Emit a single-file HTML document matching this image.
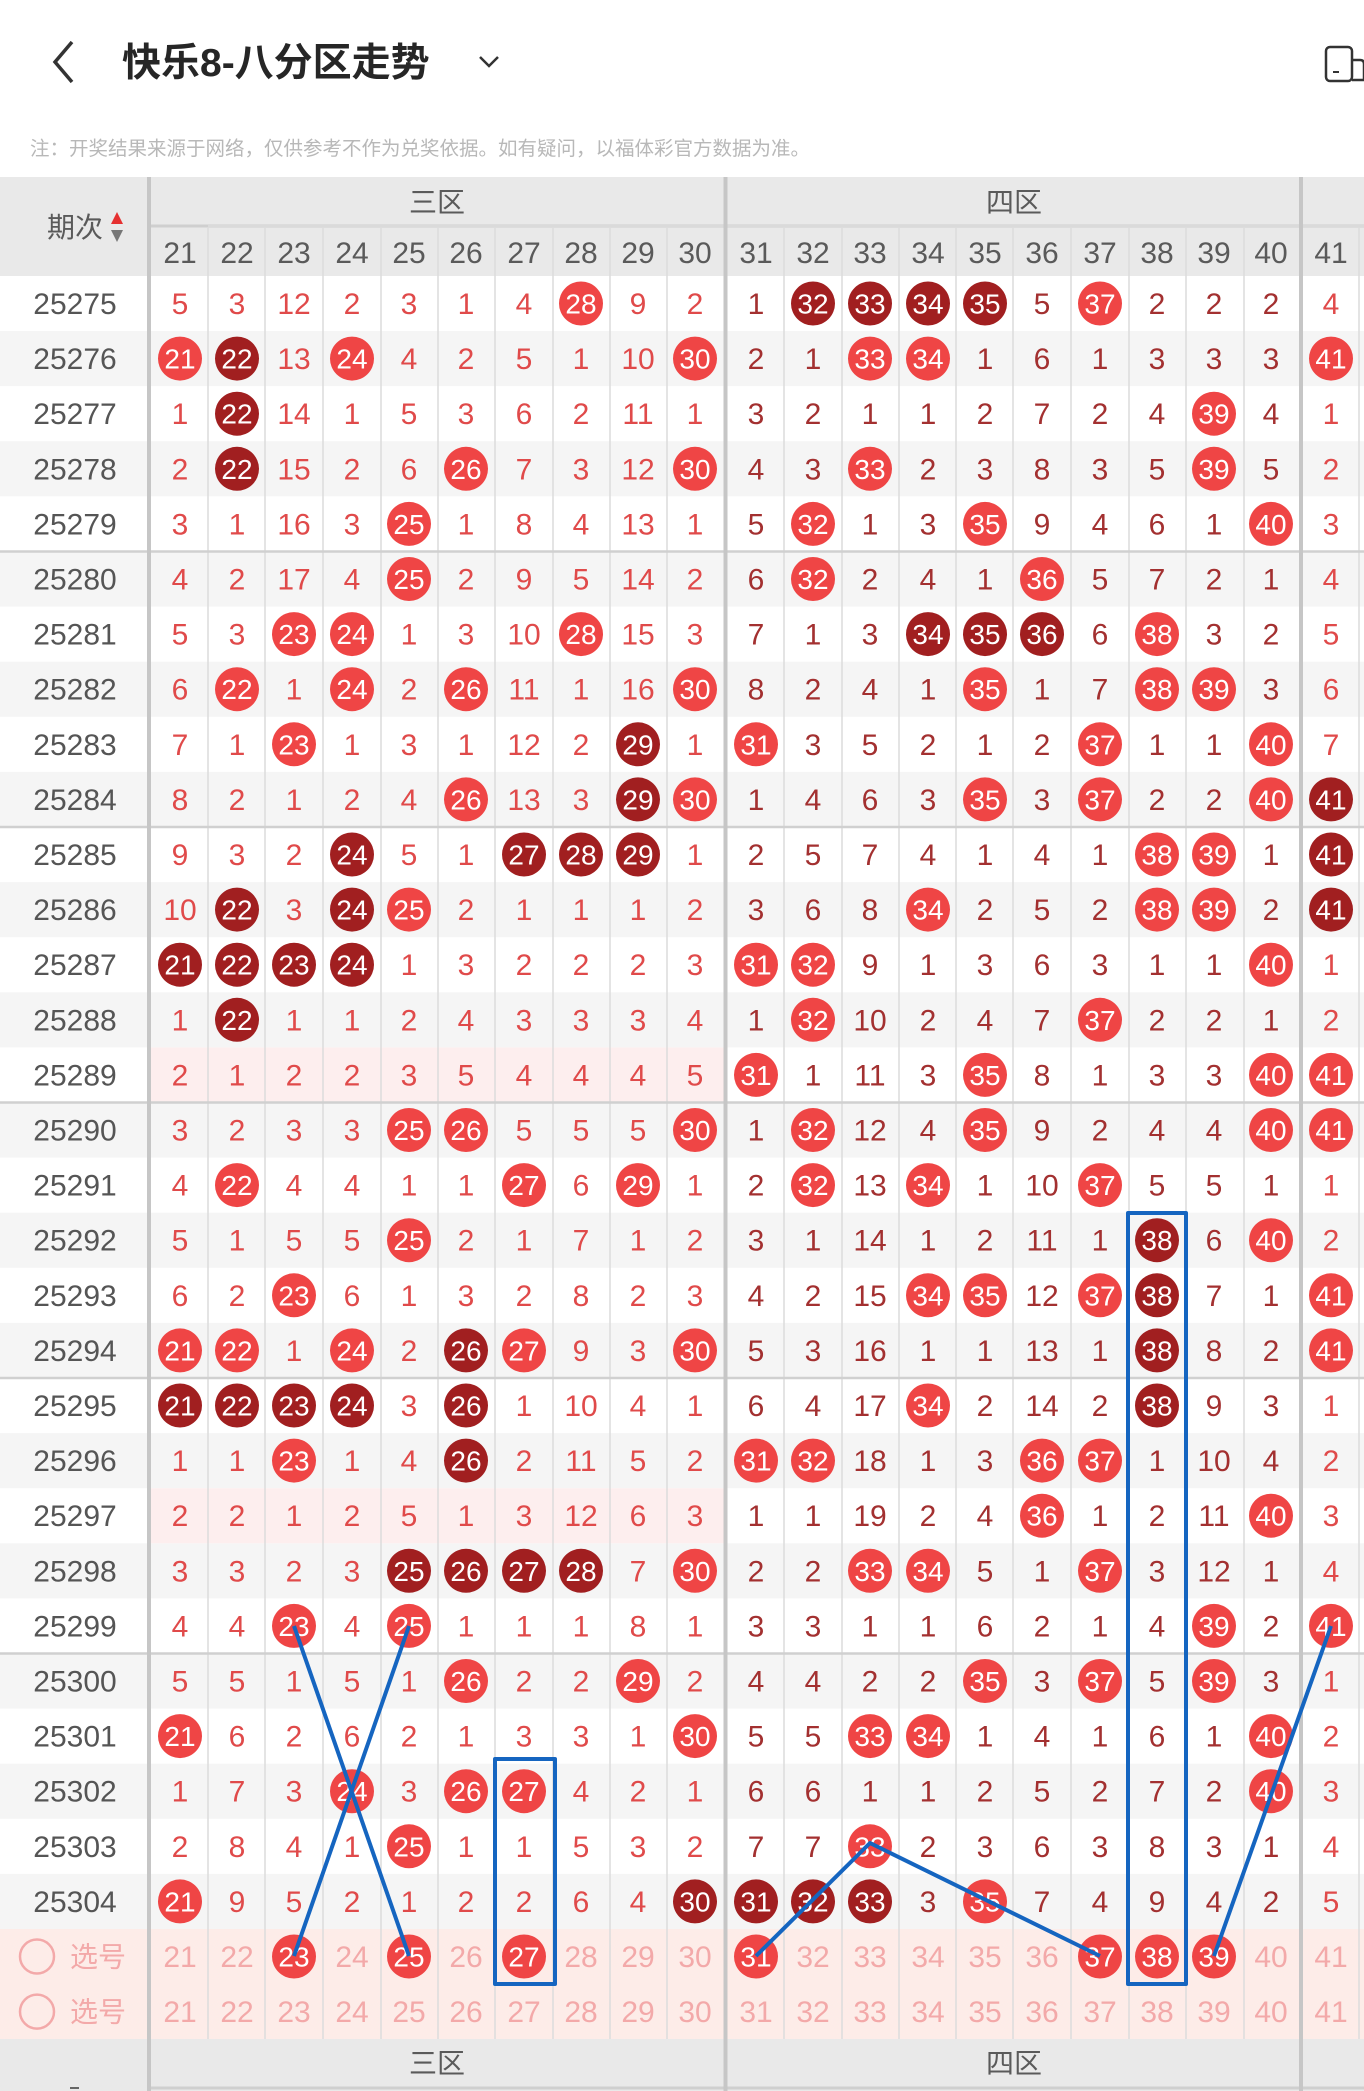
<!DOCTYPE html>
<html><head><meta charset="utf-8"><style>
html,body{margin:0;padding:0;background:#fff;}
svg{display:block;}
text{font-family:"Liberation Sans","Noto Sans CJK SC",sans-serif;font-size:30px;text-anchor:middle;}
.a{fill:#e04a4a}.z{fill:#a33030}.w{fill:#fff;font-size:28px}.p{fill:#555}
.r{fill:#ef4545}.k{fill:#a11f20}
.h{fill:#5a5a5a}
.s{fill:#f3a9a9}
</style></head><body>
<svg width="1364" height="2091" viewBox="0 0 1364 2091" xmlns="http://www.w3.org/2000/svg">
<rect width="1364" height="2091" fill="#fff"/>
<!-- top bar -->
<polyline points="72,42 55,62 72,82" fill="none" stroke="#333" stroke-width="3.5"/>
<text x="122" y="76" style="text-anchor:start;font-size:39px;font-weight:bold;fill:#262626">快乐8-八分区走势</text>
<polyline points="480,57 489,66 498,57" fill="none" stroke="#333" stroke-width="2.5"/>
<rect x="1326" y="47" width="26" height="34" rx="4" fill="none" stroke="#333" stroke-width="2.5"/>
<path d="M1352,60 L1360,60 Q1364,60 1364,64 L1364,80 L1352,80" fill="none" stroke="#333" stroke-width="2.5"/>
<line x1="1333" y1="72" x2="1339" y2="72" stroke="#333" stroke-width="2"/>
<text x="30" y="155" style="text-anchor:start;font-size:19.5px;fill:#b8b8b8">注：开奖结果来源于网络，仅供参考不作为兑奖依据。如有疑问，以福体彩官方数据为准。</text>
<!-- header -->
<rect x="0" y="177" width="1364" height="99" fill="#e9e9e9"/>
<line x1="149" y1="226" x2="1364" y2="226" stroke="#cfcfcf" stroke-width="3"/>
<text x="437" y="212" class="h" style="font-size:28px">三区</text>
<text x="1014" y="212" class="h" style="font-size:28px">四区</text>
<text x="75" y="237" class="h" style="font-size:28px">期次</text>
<polygon points="117,212 111,224 123,224" fill="#e53030"/>
<polygon points="117,242 111,230 123,230" fill="#777"/>
<text class="h" y="263"><tspan x="180">21</tspan><tspan x="237">22</tspan><tspan x="294">23</tspan><tspan x="352">24</tspan><tspan x="409">25</tspan><tspan x="466">26</tspan><tspan x="524">27</tspan><tspan x="581">28</tspan><tspan x="638">29</tspan><tspan x="695">30</tspan><tspan x="756">31</tspan><tspan x="813">32</tspan><tspan x="870">33</tspan><tspan x="928">34</tspan><tspan x="985">35</tspan><tspan x="1042">36</tspan><tspan x="1100">37</tspan><tspan x="1157">38</tspan><tspan x="1214">39</tspan><tspan x="1271">40</tspan><tspan x="1331">41</tspan></text>
<!-- row backgrounds -->
<g fill="#f5f5f5">
<rect x="0" y="331" width="1364" height="55.1"/><rect x="0" y="441.2" width="1364" height="55.1"/><rect x="0" y="551.5" width="1364" height="55.1"/><rect x="0" y="661.7" width="1364" height="55.1"/><rect x="0" y="771.9" width="1364" height="55.1"/><rect x="0" y="882.1" width="1364" height="55.1"/><rect x="0" y="992.3" width="1364" height="55.1"/><rect x="0" y="1102.5" width="1364" height="55.1"/><rect x="0" y="1212.7" width="1364" height="55.1"/><rect x="0" y="1322.9" width="1364" height="55.1"/><rect x="0" y="1433.1" width="1364" height="55.1"/><rect x="0" y="1543.3" width="1364" height="55.1"/><rect x="0" y="1653.5" width="1364" height="55.1"/><rect x="0" y="1763.7" width="1364" height="55.1"/><rect x="0" y="1873.9" width="1364" height="55.1"/>
</g>
<rect x="151" y="1047.4" width="573" height="55.1" fill="#fdeeee"/>
<rect x="151" y="1488.2" width="573" height="55.1" fill="#fdeeee"/>
<rect x="0" y="1929" width="1364" height="110" fill="#fdece8"/>
<!-- vertical cell lines -->
<g stroke="#dedede" stroke-width="1.5">
<line x1="208" y1="226" x2="2039" y2="226" transform="rotate(0)"/>
</g>
<g stroke="#dcdcdc" stroke-width="1.5">
<path d="M208,228V2039M265,228V2039M323,228V2039M381,228V2039M438,228V2039M495,228V2039M553,228V2039M610,228V2039M667,228V2039M784,228V2039M842,228V2039M899,228V2039M956,228V2039M1013,228V2039M1071,228V2039M1129,228V2039M1186,228V2039M1244,228V2039M1359,228V2039"/>
</g>
<!-- group lines -->
<g stroke="#d0d0d0" stroke-width="2.5">
<path d="M0,551.5H1364M0,827H1364M0,1102.5H1364M0,1378H1364M0,1653.5H1364"/>
</g>
<!-- footer -->
<rect x="0" y="2039" width="1364" height="52" fill="#e9e9e9"/>
<line x1="149" y1="2088" x2="1364" y2="2088" stroke="#cfcfcf" stroke-width="3"/>
<text x="437" y="2073" class="h" style="font-size:28px">三区</text>
<text x="1014" y="2073" class="h" style="font-size:28px">四区</text>
<line x1="70" y1="2088" x2="79" y2="2088" stroke="#666" stroke-width="2"/>
<!-- thick separators -->
<g stroke="#c6c6c6" stroke-width="4">
<path d="M149,177V2091M725.5,177V2091M1301,177V2091"/>
</g>

<!-- rows -->
<g transform="translate(0,303.5)"><text class="p" x="75" y="10.5">25275</text>
<circle class="r" cx="581" r="22"/><circle class="r" cx="1100" r="22"/><circle class="k" cx="813" r="22"/><circle class="k" cx="870" r="22"/><circle class="k" cx="928" r="22"/><circle class="k" cx="985" r="22"/>
<text class="a" y="10.5"><tspan x="180">5</tspan><tspan x="237">3</tspan><tspan x="294">12</tspan><tspan x="352">2</tspan><tspan x="409">3</tspan><tspan x="466">1</tspan><tspan x="524">4</tspan><tspan x="638">9</tspan><tspan x="695">2</tspan><tspan x="1331">4</tspan></text>
<text class="z" y="10.5"><tspan x="756">1</tspan><tspan x="1042">5</tspan><tspan x="1157">2</tspan><tspan x="1214">2</tspan><tspan x="1271">2</tspan></text>
<text class="w" y="10"><tspan x="581">28</tspan><tspan x="1100">37</tspan><tspan x="813">32</tspan><tspan x="870">33</tspan><tspan x="928">34</tspan><tspan x="985">35</tspan></text></g>

<g transform="translate(0,358.6)"><text class="p" x="75" y="10.5">25276</text>
<circle class="r" cx="180" r="22"/><circle class="r" cx="352" r="22"/><circle class="r" cx="695" r="22"/><circle class="r" cx="870" r="22"/><circle class="r" cx="928" r="22"/><circle class="r" cx="1331" r="22"/><circle class="k" cx="237" r="22"/>
<text class="a" y="10.5"><tspan x="294">13</tspan><tspan x="409">4</tspan><tspan x="466">2</tspan><tspan x="524">5</tspan><tspan x="581">1</tspan><tspan x="638">10</tspan></text>
<text class="z" y="10.5"><tspan x="756">2</tspan><tspan x="813">1</tspan><tspan x="985">1</tspan><tspan x="1042">6</tspan><tspan x="1100">1</tspan><tspan x="1157">3</tspan><tspan x="1214">3</tspan><tspan x="1271">3</tspan></text>
<text class="w" y="10"><tspan x="180">21</tspan><tspan x="352">24</tspan><tspan x="695">30</tspan><tspan x="870">33</tspan><tspan x="928">34</tspan><tspan x="1331">41</tspan><tspan x="237">22</tspan></text></g>

<g transform="translate(0,413.7)"><text class="p" x="75" y="10.5">25277</text>
<circle class="r" cx="1214" r="22"/><circle class="k" cx="237" r="22"/>
<text class="a" y="10.5"><tspan x="180">1</tspan><tspan x="294">14</tspan><tspan x="352">1</tspan><tspan x="409">5</tspan><tspan x="466">3</tspan><tspan x="524">6</tspan><tspan x="581">2</tspan><tspan x="638">11</tspan><tspan x="695">1</tspan><tspan x="1331">1</tspan></text>
<text class="z" y="10.5"><tspan x="756">3</tspan><tspan x="813">2</tspan><tspan x="870">1</tspan><tspan x="928">1</tspan><tspan x="985">2</tspan><tspan x="1042">7</tspan><tspan x="1100">2</tspan><tspan x="1157">4</tspan><tspan x="1271">4</tspan></text>
<text class="w" y="10"><tspan x="1214">39</tspan><tspan x="237">22</tspan></text></g>

<g transform="translate(0,468.8)"><text class="p" x="75" y="10.5">25278</text>
<circle class="r" cx="466" r="22"/><circle class="r" cx="695" r="22"/><circle class="r" cx="870" r="22"/><circle class="r" cx="1214" r="22"/><circle class="k" cx="237" r="22"/>
<text class="a" y="10.5"><tspan x="180">2</tspan><tspan x="294">15</tspan><tspan x="352">2</tspan><tspan x="409">6</tspan><tspan x="524">7</tspan><tspan x="581">3</tspan><tspan x="638">12</tspan><tspan x="1331">2</tspan></text>
<text class="z" y="10.5"><tspan x="756">4</tspan><tspan x="813">3</tspan><tspan x="928">2</tspan><tspan x="985">3</tspan><tspan x="1042">8</tspan><tspan x="1100">3</tspan><tspan x="1157">5</tspan><tspan x="1271">5</tspan></text>
<text class="w" y="10"><tspan x="466">26</tspan><tspan x="695">30</tspan><tspan x="870">33</tspan><tspan x="1214">39</tspan><tspan x="237">22</tspan></text></g>

<g transform="translate(0,523.9)"><text class="p" x="75" y="10.5">25279</text>
<circle class="r" cx="409" r="22"/><circle class="r" cx="813" r="22"/><circle class="r" cx="985" r="22"/><circle class="r" cx="1271" r="22"/>
<text class="a" y="10.5"><tspan x="180">3</tspan><tspan x="237">1</tspan><tspan x="294">16</tspan><tspan x="352">3</tspan><tspan x="466">1</tspan><tspan x="524">8</tspan><tspan x="581">4</tspan><tspan x="638">13</tspan><tspan x="695">1</tspan><tspan x="1331">3</tspan></text>
<text class="z" y="10.5"><tspan x="756">5</tspan><tspan x="870">1</tspan><tspan x="928">3</tspan><tspan x="1042">9</tspan><tspan x="1100">4</tspan><tspan x="1157">6</tspan><tspan x="1214">1</tspan></text>
<text class="w" y="10"><tspan x="409">25</tspan><tspan x="813">32</tspan><tspan x="985">35</tspan><tspan x="1271">40</tspan></text></g>

<g transform="translate(0,579)"><text class="p" x="75" y="10.5">25280</text>
<circle class="r" cx="409" r="22"/><circle class="r" cx="813" r="22"/><circle class="r" cx="1042" r="22"/>
<text class="a" y="10.5"><tspan x="180">4</tspan><tspan x="237">2</tspan><tspan x="294">17</tspan><tspan x="352">4</tspan><tspan x="466">2</tspan><tspan x="524">9</tspan><tspan x="581">5</tspan><tspan x="638">14</tspan><tspan x="695">2</tspan><tspan x="1331">4</tspan></text>
<text class="z" y="10.5"><tspan x="756">6</tspan><tspan x="870">2</tspan><tspan x="928">4</tspan><tspan x="985">1</tspan><tspan x="1100">5</tspan><tspan x="1157">7</tspan><tspan x="1214">2</tspan><tspan x="1271">1</tspan></text>
<text class="w" y="10"><tspan x="409">25</tspan><tspan x="813">32</tspan><tspan x="1042">36</tspan></text></g>

<g transform="translate(0,634.1)"><text class="p" x="75" y="10.5">25281</text>
<circle class="r" cx="294" r="22"/><circle class="r" cx="352" r="22"/><circle class="r" cx="581" r="22"/><circle class="r" cx="1157" r="22"/><circle class="k" cx="928" r="22"/><circle class="k" cx="985" r="22"/><circle class="k" cx="1042" r="22"/>
<text class="a" y="10.5"><tspan x="180">5</tspan><tspan x="237">3</tspan><tspan x="409">1</tspan><tspan x="466">3</tspan><tspan x="524">10</tspan><tspan x="638">15</tspan><tspan x="695">3</tspan><tspan x="1331">5</tspan></text>
<text class="z" y="10.5"><tspan x="756">7</tspan><tspan x="813">1</tspan><tspan x="870">3</tspan><tspan x="1100">6</tspan><tspan x="1214">3</tspan><tspan x="1271">2</tspan></text>
<text class="w" y="10"><tspan x="294">23</tspan><tspan x="352">24</tspan><tspan x="581">28</tspan><tspan x="1157">38</tspan><tspan x="928">34</tspan><tspan x="985">35</tspan><tspan x="1042">36</tspan></text></g>

<g transform="translate(0,689.2)"><text class="p" x="75" y="10.5">25282</text>
<circle class="r" cx="237" r="22"/><circle class="r" cx="352" r="22"/><circle class="r" cx="466" r="22"/><circle class="r" cx="695" r="22"/><circle class="r" cx="985" r="22"/><circle class="r" cx="1157" r="22"/><circle class="r" cx="1214" r="22"/>
<text class="a" y="10.5"><tspan x="180">6</tspan><tspan x="294">1</tspan><tspan x="409">2</tspan><tspan x="524">11</tspan><tspan x="581">1</tspan><tspan x="638">16</tspan><tspan x="1331">6</tspan></text>
<text class="z" y="10.5"><tspan x="756">8</tspan><tspan x="813">2</tspan><tspan x="870">4</tspan><tspan x="928">1</tspan><tspan x="1042">1</tspan><tspan x="1100">7</tspan><tspan x="1271">3</tspan></text>
<text class="w" y="10"><tspan x="237">22</tspan><tspan x="352">24</tspan><tspan x="466">26</tspan><tspan x="695">30</tspan><tspan x="985">35</tspan><tspan x="1157">38</tspan><tspan x="1214">39</tspan></text></g>

<g transform="translate(0,744.3)"><text class="p" x="75" y="10.5">25283</text>
<circle class="r" cx="294" r="22"/><circle class="r" cx="756" r="22"/><circle class="r" cx="1100" r="22"/><circle class="r" cx="1271" r="22"/><circle class="k" cx="638" r="22"/>
<text class="a" y="10.5"><tspan x="180">7</tspan><tspan x="237">1</tspan><tspan x="352">1</tspan><tspan x="409">3</tspan><tspan x="466">1</tspan><tspan x="524">12</tspan><tspan x="581">2</tspan><tspan x="695">1</tspan><tspan x="1331">7</tspan></text>
<text class="z" y="10.5"><tspan x="813">3</tspan><tspan x="870">5</tspan><tspan x="928">2</tspan><tspan x="985">1</tspan><tspan x="1042">2</tspan><tspan x="1157">1</tspan><tspan x="1214">1</tspan></text>
<text class="w" y="10"><tspan x="294">23</tspan><tspan x="756">31</tspan><tspan x="1100">37</tspan><tspan x="1271">40</tspan><tspan x="638">29</tspan></text></g>

<g transform="translate(0,799.4)"><text class="p" x="75" y="10.5">25284</text>
<circle class="r" cx="466" r="22"/><circle class="r" cx="695" r="22"/><circle class="r" cx="985" r="22"/><circle class="r" cx="1100" r="22"/><circle class="r" cx="1271" r="22"/><circle class="k" cx="638" r="22"/><circle class="k" cx="1331" r="22"/>
<text class="a" y="10.5"><tspan x="180">8</tspan><tspan x="237">2</tspan><tspan x="294">1</tspan><tspan x="352">2</tspan><tspan x="409">4</tspan><tspan x="524">13</tspan><tspan x="581">3</tspan></text>
<text class="z" y="10.5"><tspan x="756">1</tspan><tspan x="813">4</tspan><tspan x="870">6</tspan><tspan x="928">3</tspan><tspan x="1042">3</tspan><tspan x="1157">2</tspan><tspan x="1214">2</tspan></text>
<text class="w" y="10"><tspan x="466">26</tspan><tspan x="695">30</tspan><tspan x="985">35</tspan><tspan x="1100">37</tspan><tspan x="1271">40</tspan><tspan x="638">29</tspan><tspan x="1331">41</tspan></text></g>

<g transform="translate(0,854.5)"><text class="p" x="75" y="10.5">25285</text>
<circle class="r" cx="1157" r="22"/><circle class="r" cx="1214" r="22"/><circle class="k" cx="352" r="22"/><circle class="k" cx="524" r="22"/><circle class="k" cx="581" r="22"/><circle class="k" cx="638" r="22"/><circle class="k" cx="1331" r="22"/>
<text class="a" y="10.5"><tspan x="180">9</tspan><tspan x="237">3</tspan><tspan x="294">2</tspan><tspan x="409">5</tspan><tspan x="466">1</tspan><tspan x="695">1</tspan></text>
<text class="z" y="10.5"><tspan x="756">2</tspan><tspan x="813">5</tspan><tspan x="870">7</tspan><tspan x="928">4</tspan><tspan x="985">1</tspan><tspan x="1042">4</tspan><tspan x="1100">1</tspan><tspan x="1271">1</tspan></text>
<text class="w" y="10"><tspan x="1157">38</tspan><tspan x="1214">39</tspan><tspan x="352">24</tspan><tspan x="524">27</tspan><tspan x="581">28</tspan><tspan x="638">29</tspan><tspan x="1331">41</tspan></text></g>

<g transform="translate(0,909.6)"><text class="p" x="75" y="10.5">25286</text>
<circle class="r" cx="409" r="22"/><circle class="r" cx="928" r="22"/><circle class="r" cx="1157" r="22"/><circle class="r" cx="1214" r="22"/><circle class="k" cx="237" r="22"/><circle class="k" cx="352" r="22"/><circle class="k" cx="1331" r="22"/>
<text class="a" y="10.5"><tspan x="180">10</tspan><tspan x="294">3</tspan><tspan x="466">2</tspan><tspan x="524">1</tspan><tspan x="581">1</tspan><tspan x="638">1</tspan><tspan x="695">2</tspan></text>
<text class="z" y="10.5"><tspan x="756">3</tspan><tspan x="813">6</tspan><tspan x="870">8</tspan><tspan x="985">2</tspan><tspan x="1042">5</tspan><tspan x="1100">2</tspan><tspan x="1271">2</tspan></text>
<text class="w" y="10"><tspan x="409">25</tspan><tspan x="928">34</tspan><tspan x="1157">38</tspan><tspan x="1214">39</tspan><tspan x="237">22</tspan><tspan x="352">24</tspan><tspan x="1331">41</tspan></text></g>

<g transform="translate(0,964.7)"><text class="p" x="75" y="10.5">25287</text>
<circle class="r" cx="756" r="22"/><circle class="r" cx="813" r="22"/><circle class="r" cx="1271" r="22"/><circle class="k" cx="180" r="22"/><circle class="k" cx="237" r="22"/><circle class="k" cx="294" r="22"/><circle class="k" cx="352" r="22"/>
<text class="a" y="10.5"><tspan x="409">1</tspan><tspan x="466">3</tspan><tspan x="524">2</tspan><tspan x="581">2</tspan><tspan x="638">2</tspan><tspan x="695">3</tspan><tspan x="1331">1</tspan></text>
<text class="z" y="10.5"><tspan x="870">9</tspan><tspan x="928">1</tspan><tspan x="985">3</tspan><tspan x="1042">6</tspan><tspan x="1100">3</tspan><tspan x="1157">1</tspan><tspan x="1214">1</tspan></text>
<text class="w" y="10"><tspan x="756">31</tspan><tspan x="813">32</tspan><tspan x="1271">40</tspan><tspan x="180">21</tspan><tspan x="237">22</tspan><tspan x="294">23</tspan><tspan x="352">24</tspan></text></g>

<g transform="translate(0,1019.8)"><text class="p" x="75" y="10.5">25288</text>
<circle class="r" cx="813" r="22"/><circle class="r" cx="1100" r="22"/><circle class="k" cx="237" r="22"/>
<text class="a" y="10.5"><tspan x="180">1</tspan><tspan x="294">1</tspan><tspan x="352">1</tspan><tspan x="409">2</tspan><tspan x="466">4</tspan><tspan x="524">3</tspan><tspan x="581">3</tspan><tspan x="638">3</tspan><tspan x="695">4</tspan><tspan x="1331">2</tspan></text>
<text class="z" y="10.5"><tspan x="756">1</tspan><tspan x="870">10</tspan><tspan x="928">2</tspan><tspan x="985">4</tspan><tspan x="1042">7</tspan><tspan x="1157">2</tspan><tspan x="1214">2</tspan><tspan x="1271">1</tspan></text>
<text class="w" y="10"><tspan x="813">32</tspan><tspan x="1100">37</tspan><tspan x="237">22</tspan></text></g>

<g transform="translate(0,1074.9)"><text class="p" x="75" y="10.5">25289</text>
<circle class="r" cx="756" r="22"/><circle class="r" cx="985" r="22"/><circle class="r" cx="1271" r="22"/><circle class="r" cx="1331" r="22"/>
<text class="a" y="10.5"><tspan x="180">2</tspan><tspan x="237">1</tspan><tspan x="294">2</tspan><tspan x="352">2</tspan><tspan x="409">3</tspan><tspan x="466">5</tspan><tspan x="524">4</tspan><tspan x="581">4</tspan><tspan x="638">4</tspan><tspan x="695">5</tspan></text>
<text class="z" y="10.5"><tspan x="813">1</tspan><tspan x="870">11</tspan><tspan x="928">3</tspan><tspan x="1042">8</tspan><tspan x="1100">1</tspan><tspan x="1157">3</tspan><tspan x="1214">3</tspan></text>
<text class="w" y="10"><tspan x="756">31</tspan><tspan x="985">35</tspan><tspan x="1271">40</tspan><tspan x="1331">41</tspan></text></g>

<g transform="translate(0,1130)"><text class="p" x="75" y="10.5">25290</text>
<circle class="r" cx="409" r="22"/><circle class="r" cx="466" r="22"/><circle class="r" cx="695" r="22"/><circle class="r" cx="813" r="22"/><circle class="r" cx="985" r="22"/><circle class="r" cx="1271" r="22"/><circle class="r" cx="1331" r="22"/>
<text class="a" y="10.5"><tspan x="180">3</tspan><tspan x="237">2</tspan><tspan x="294">3</tspan><tspan x="352">3</tspan><tspan x="524">5</tspan><tspan x="581">5</tspan><tspan x="638">5</tspan></text>
<text class="z" y="10.5"><tspan x="756">1</tspan><tspan x="870">12</tspan><tspan x="928">4</tspan><tspan x="1042">9</tspan><tspan x="1100">2</tspan><tspan x="1157">4</tspan><tspan x="1214">4</tspan></text>
<text class="w" y="10"><tspan x="409">25</tspan><tspan x="466">26</tspan><tspan x="695">30</tspan><tspan x="813">32</tspan><tspan x="985">35</tspan><tspan x="1271">40</tspan><tspan x="1331">41</tspan></text></g>

<g transform="translate(0,1185.1)"><text class="p" x="75" y="10.5">25291</text>
<circle class="r" cx="237" r="22"/><circle class="r" cx="524" r="22"/><circle class="r" cx="638" r="22"/><circle class="r" cx="813" r="22"/><circle class="r" cx="928" r="22"/><circle class="r" cx="1100" r="22"/>
<text class="a" y="10.5"><tspan x="180">4</tspan><tspan x="294">4</tspan><tspan x="352">4</tspan><tspan x="409">1</tspan><tspan x="466">1</tspan><tspan x="581">6</tspan><tspan x="695">1</tspan><tspan x="1331">1</tspan></text>
<text class="z" y="10.5"><tspan x="756">2</tspan><tspan x="870">13</tspan><tspan x="985">1</tspan><tspan x="1042">10</tspan><tspan x="1157">5</tspan><tspan x="1214">5</tspan><tspan x="1271">1</tspan></text>
<text class="w" y="10"><tspan x="237">22</tspan><tspan x="524">27</tspan><tspan x="638">29</tspan><tspan x="813">32</tspan><tspan x="928">34</tspan><tspan x="1100">37</tspan></text></g>

<g transform="translate(0,1240.2)"><text class="p" x="75" y="10.5">25292</text>
<circle class="r" cx="409" r="22"/><circle class="r" cx="1271" r="22"/><circle class="k" cx="1157" r="22"/>
<text class="a" y="10.5"><tspan x="180">5</tspan><tspan x="237">1</tspan><tspan x="294">5</tspan><tspan x="352">5</tspan><tspan x="466">2</tspan><tspan x="524">1</tspan><tspan x="581">7</tspan><tspan x="638">1</tspan><tspan x="695">2</tspan><tspan x="1331">2</tspan></text>
<text class="z" y="10.5"><tspan x="756">3</tspan><tspan x="813">1</tspan><tspan x="870">14</tspan><tspan x="928">1</tspan><tspan x="985">2</tspan><tspan x="1042">11</tspan><tspan x="1100">1</tspan><tspan x="1214">6</tspan></text>
<text class="w" y="10"><tspan x="409">25</tspan><tspan x="1271">40</tspan><tspan x="1157">38</tspan></text></g>

<g transform="translate(0,1295.3)"><text class="p" x="75" y="10.5">25293</text>
<circle class="r" cx="294" r="22"/><circle class="r" cx="928" r="22"/><circle class="r" cx="985" r="22"/><circle class="r" cx="1100" r="22"/><circle class="r" cx="1331" r="22"/><circle class="k" cx="1157" r="22"/>
<text class="a" y="10.5"><tspan x="180">6</tspan><tspan x="237">2</tspan><tspan x="352">6</tspan><tspan x="409">1</tspan><tspan x="466">3</tspan><tspan x="524">2</tspan><tspan x="581">8</tspan><tspan x="638">2</tspan><tspan x="695">3</tspan></text>
<text class="z" y="10.5"><tspan x="756">4</tspan><tspan x="813">2</tspan><tspan x="870">15</tspan><tspan x="1042">12</tspan><tspan x="1214">7</tspan><tspan x="1271">1</tspan></text>
<text class="w" y="10"><tspan x="294">23</tspan><tspan x="928">34</tspan><tspan x="985">35</tspan><tspan x="1100">37</tspan><tspan x="1331">41</tspan><tspan x="1157">38</tspan></text></g>

<g transform="translate(0,1350.4)"><text class="p" x="75" y="10.5">25294</text>
<circle class="r" cx="180" r="22"/><circle class="r" cx="237" r="22"/><circle class="r" cx="352" r="22"/><circle class="r" cx="524" r="22"/><circle class="r" cx="695" r="22"/><circle class="r" cx="1331" r="22"/><circle class="k" cx="466" r="22"/><circle class="k" cx="1157" r="22"/>
<text class="a" y="10.5"><tspan x="294">1</tspan><tspan x="409">2</tspan><tspan x="581">9</tspan><tspan x="638">3</tspan></text>
<text class="z" y="10.5"><tspan x="756">5</tspan><tspan x="813">3</tspan><tspan x="870">16</tspan><tspan x="928">1</tspan><tspan x="985">1</tspan><tspan x="1042">13</tspan><tspan x="1100">1</tspan><tspan x="1214">8</tspan><tspan x="1271">2</tspan></text>
<text class="w" y="10"><tspan x="180">21</tspan><tspan x="237">22</tspan><tspan x="352">24</tspan><tspan x="524">27</tspan><tspan x="695">30</tspan><tspan x="1331">41</tspan><tspan x="466">26</tspan><tspan x="1157">38</tspan></text></g>

<g transform="translate(0,1405.5)"><text class="p" x="75" y="10.5">25295</text>
<circle class="r" cx="928" r="22"/><circle class="k" cx="180" r="22"/><circle class="k" cx="237" r="22"/><circle class="k" cx="294" r="22"/><circle class="k" cx="352" r="22"/><circle class="k" cx="466" r="22"/><circle class="k" cx="1157" r="22"/>
<text class="a" y="10.5"><tspan x="409">3</tspan><tspan x="524">1</tspan><tspan x="581">10</tspan><tspan x="638">4</tspan><tspan x="695">1</tspan><tspan x="1331">1</tspan></text>
<text class="z" y="10.5"><tspan x="756">6</tspan><tspan x="813">4</tspan><tspan x="870">17</tspan><tspan x="985">2</tspan><tspan x="1042">14</tspan><tspan x="1100">2</tspan><tspan x="1214">9</tspan><tspan x="1271">3</tspan></text>
<text class="w" y="10"><tspan x="928">34</tspan><tspan x="180">21</tspan><tspan x="237">22</tspan><tspan x="294">23</tspan><tspan x="352">24</tspan><tspan x="466">26</tspan><tspan x="1157">38</tspan></text></g>

<g transform="translate(0,1460.6)"><text class="p" x="75" y="10.5">25296</text>
<circle class="r" cx="294" r="22"/><circle class="r" cx="756" r="22"/><circle class="r" cx="813" r="22"/><circle class="r" cx="1042" r="22"/><circle class="r" cx="1100" r="22"/><circle class="k" cx="466" r="22"/>
<text class="a" y="10.5"><tspan x="180">1</tspan><tspan x="237">1</tspan><tspan x="352">1</tspan><tspan x="409">4</tspan><tspan x="524">2</tspan><tspan x="581">11</tspan><tspan x="638">5</tspan><tspan x="695">2</tspan><tspan x="1331">2</tspan></text>
<text class="z" y="10.5"><tspan x="870">18</tspan><tspan x="928">1</tspan><tspan x="985">3</tspan><tspan x="1157">1</tspan><tspan x="1214">10</tspan><tspan x="1271">4</tspan></text>
<text class="w" y="10"><tspan x="294">23</tspan><tspan x="756">31</tspan><tspan x="813">32</tspan><tspan x="1042">36</tspan><tspan x="1100">37</tspan><tspan x="466">26</tspan></text></g>

<g transform="translate(0,1515.7)"><text class="p" x="75" y="10.5">25297</text>
<circle class="r" cx="1042" r="22"/><circle class="r" cx="1271" r="22"/>
<text class="a" y="10.5"><tspan x="180">2</tspan><tspan x="237">2</tspan><tspan x="294">1</tspan><tspan x="352">2</tspan><tspan x="409">5</tspan><tspan x="466">1</tspan><tspan x="524">3</tspan><tspan x="581">12</tspan><tspan x="638">6</tspan><tspan x="695">3</tspan><tspan x="1331">3</tspan></text>
<text class="z" y="10.5"><tspan x="756">1</tspan><tspan x="813">1</tspan><tspan x="870">19</tspan><tspan x="928">2</tspan><tspan x="985">4</tspan><tspan x="1100">1</tspan><tspan x="1157">2</tspan><tspan x="1214">11</tspan></text>
<text class="w" y="10"><tspan x="1042">36</tspan><tspan x="1271">40</tspan></text></g>

<g transform="translate(0,1570.8)"><text class="p" x="75" y="10.5">25298</text>
<circle class="r" cx="695" r="22"/><circle class="r" cx="870" r="22"/><circle class="r" cx="928" r="22"/><circle class="r" cx="1100" r="22"/><circle class="k" cx="409" r="22"/><circle class="k" cx="466" r="22"/><circle class="k" cx="524" r="22"/><circle class="k" cx="581" r="22"/>
<text class="a" y="10.5"><tspan x="180">3</tspan><tspan x="237">3</tspan><tspan x="294">2</tspan><tspan x="352">3</tspan><tspan x="638">7</tspan><tspan x="1331">4</tspan></text>
<text class="z" y="10.5"><tspan x="756">2</tspan><tspan x="813">2</tspan><tspan x="985">5</tspan><tspan x="1042">1</tspan><tspan x="1157">3</tspan><tspan x="1214">12</tspan><tspan x="1271">1</tspan></text>
<text class="w" y="10"><tspan x="695">30</tspan><tspan x="870">33</tspan><tspan x="928">34</tspan><tspan x="1100">37</tspan><tspan x="409">25</tspan><tspan x="466">26</tspan><tspan x="524">27</tspan><tspan x="581">28</tspan></text></g>

<g transform="translate(0,1625.9)"><text class="p" x="75" y="10.5">25299</text>
<circle class="r" cx="294" r="22"/><circle class="r" cx="409" r="22"/><circle class="r" cx="1214" r="22"/><circle class="r" cx="1331" r="22"/>
<text class="a" y="10.5"><tspan x="180">4</tspan><tspan x="237">4</tspan><tspan x="352">4</tspan><tspan x="466">1</tspan><tspan x="524">1</tspan><tspan x="581">1</tspan><tspan x="638">8</tspan><tspan x="695">1</tspan></text>
<text class="z" y="10.5"><tspan x="756">3</tspan><tspan x="813">3</tspan><tspan x="870">1</tspan><tspan x="928">1</tspan><tspan x="985">6</tspan><tspan x="1042">2</tspan><tspan x="1100">1</tspan><tspan x="1157">4</tspan><tspan x="1271">2</tspan></text>
<text class="w" y="10"><tspan x="294">23</tspan><tspan x="409">25</tspan><tspan x="1214">39</tspan><tspan x="1331">41</tspan></text></g>

<g transform="translate(0,1681)"><text class="p" x="75" y="10.5">25300</text>
<circle class="r" cx="466" r="22"/><circle class="r" cx="638" r="22"/><circle class="r" cx="985" r="22"/><circle class="r" cx="1100" r="22"/><circle class="r" cx="1214" r="22"/>
<text class="a" y="10.5"><tspan x="180">5</tspan><tspan x="237">5</tspan><tspan x="294">1</tspan><tspan x="352">5</tspan><tspan x="409">1</tspan><tspan x="524">2</tspan><tspan x="581">2</tspan><tspan x="695">2</tspan><tspan x="1331">1</tspan></text>
<text class="z" y="10.5"><tspan x="756">4</tspan><tspan x="813">4</tspan><tspan x="870">2</tspan><tspan x="928">2</tspan><tspan x="1042">3</tspan><tspan x="1157">5</tspan><tspan x="1271">3</tspan></text>
<text class="w" y="10"><tspan x="466">26</tspan><tspan x="638">29</tspan><tspan x="985">35</tspan><tspan x="1100">37</tspan><tspan x="1214">39</tspan></text></g>

<g transform="translate(0,1736.1)"><text class="p" x="75" y="10.5">25301</text>
<circle class="r" cx="180" r="22"/><circle class="r" cx="695" r="22"/><circle class="r" cx="870" r="22"/><circle class="r" cx="928" r="22"/><circle class="r" cx="1271" r="22"/>
<text class="a" y="10.5"><tspan x="237">6</tspan><tspan x="294">2</tspan><tspan x="352">6</tspan><tspan x="409">2</tspan><tspan x="466">1</tspan><tspan x="524">3</tspan><tspan x="581">3</tspan><tspan x="638">1</tspan><tspan x="1331">2</tspan></text>
<text class="z" y="10.5"><tspan x="756">5</tspan><tspan x="813">5</tspan><tspan x="985">1</tspan><tspan x="1042">4</tspan><tspan x="1100">1</tspan><tspan x="1157">6</tspan><tspan x="1214">1</tspan></text>
<text class="w" y="10"><tspan x="180">21</tspan><tspan x="695">30</tspan><tspan x="870">33</tspan><tspan x="928">34</tspan><tspan x="1271">40</tspan></text></g>

<g transform="translate(0,1791.2)"><text class="p" x="75" y="10.5">25302</text>
<circle class="r" cx="352" r="22"/><circle class="r" cx="466" r="22"/><circle class="r" cx="524" r="22"/><circle class="r" cx="1271" r="22"/>
<text class="a" y="10.5"><tspan x="180">1</tspan><tspan x="237">7</tspan><tspan x="294">3</tspan><tspan x="409">3</tspan><tspan x="581">4</tspan><tspan x="638">2</tspan><tspan x="695">1</tspan><tspan x="1331">3</tspan></text>
<text class="z" y="10.5"><tspan x="756">6</tspan><tspan x="813">6</tspan><tspan x="870">1</tspan><tspan x="928">1</tspan><tspan x="985">2</tspan><tspan x="1042">5</tspan><tspan x="1100">2</tspan><tspan x="1157">7</tspan><tspan x="1214">2</tspan></text>
<text class="w" y="10"><tspan x="352">24</tspan><tspan x="466">26</tspan><tspan x="524">27</tspan><tspan x="1271">40</tspan></text></g>

<g transform="translate(0,1846.3)"><text class="p" x="75" y="10.5">25303</text>
<circle class="r" cx="409" r="22"/><circle class="r" cx="870" r="22"/>
<text class="a" y="10.5"><tspan x="180">2</tspan><tspan x="237">8</tspan><tspan x="294">4</tspan><tspan x="352">1</tspan><tspan x="466">1</tspan><tspan x="524">1</tspan><tspan x="581">5</tspan><tspan x="638">3</tspan><tspan x="695">2</tspan><tspan x="1331">4</tspan></text>
<text class="z" y="10.5"><tspan x="756">7</tspan><tspan x="813">7</tspan><tspan x="928">2</tspan><tspan x="985">3</tspan><tspan x="1042">6</tspan><tspan x="1100">3</tspan><tspan x="1157">8</tspan><tspan x="1214">3</tspan><tspan x="1271">1</tspan></text>
<text class="w" y="10"><tspan x="409">25</tspan><tspan x="870">33</tspan></text></g>

<g transform="translate(0,1901.4)"><text class="p" x="75" y="10.5">25304</text>
<circle class="r" cx="180" r="22"/><circle class="r" cx="985" r="22"/><circle class="k" cx="695" r="22"/><circle class="k" cx="756" r="22"/><circle class="k" cx="813" r="22"/><circle class="k" cx="870" r="22"/>
<text class="a" y="10.5"><tspan x="237">9</tspan><tspan x="294">5</tspan><tspan x="352">2</tspan><tspan x="409">1</tspan><tspan x="466">2</tspan><tspan x="524">2</tspan><tspan x="581">6</tspan><tspan x="638">4</tspan><tspan x="1331">5</tspan></text>
<text class="z" y="10.5"><tspan x="928">3</tspan><tspan x="1042">7</tspan><tspan x="1100">4</tspan><tspan x="1157">9</tspan><tspan x="1214">4</tspan><tspan x="1271">2</tspan></text>
<text class="w" y="10"><tspan x="180">21</tspan><tspan x="985">35</tspan><tspan x="695">30</tspan><tspan x="756">31</tspan><tspan x="813">32</tspan><tspan x="870">33</tspan></text></g>

<!-- selection rows -->
<g transform="translate(0,1956.5)">
<circle cx="37" cy="0" r="17" fill="none" stroke="#f3a9a9" stroke-width="2.5"/>
<text class="s" x="98" y="10" style="font-size:28px">选号</text>
<circle class="r" cx="294" r="22"/><circle class="r" cx="409" r="22"/><circle class="r" cx="524" r="22"/><circle class="r" cx="756" r="22"/><circle class="r" cx="1100" r="22"/><circle class="r" cx="1157" r="22"/><circle class="r" cx="1214" r="22"/>
<text class="s" y="10.5"><tspan x="180">21</tspan><tspan x="237">22</tspan><tspan x="352">24</tspan><tspan x="466">26</tspan><tspan x="581">28</tspan><tspan x="638">29</tspan><tspan x="695">30</tspan><tspan x="813">32</tspan><tspan x="870">33</tspan><tspan x="928">34</tspan><tspan x="985">35</tspan><tspan x="1042">36</tspan><tspan x="1271">40</tspan><tspan x="1331">41</tspan></text>
<text class="w" y="10"><tspan x="294">23</tspan><tspan x="409">25</tspan><tspan x="524">27</tspan><tspan x="756">31</tspan><tspan x="1100">37</tspan><tspan x="1157">38</tspan><tspan x="1214">39</tspan></text>
</g>
<g transform="translate(0,2011.6)">
<circle cx="37" cy="0" r="17" fill="none" stroke="#f3a9a9" stroke-width="2.5"/>
<text class="s" x="98" y="10" style="font-size:28px">选号</text>
<text class="s" y="10.5"><tspan x="180">21</tspan><tspan x="237">22</tspan><tspan x="294">23</tspan><tspan x="352">24</tspan><tspan x="409">25</tspan><tspan x="466">26</tspan><tspan x="524">27</tspan><tspan x="581">28</tspan><tspan x="638">29</tspan><tspan x="695">30</tspan><tspan x="756">31</tspan><tspan x="813">32</tspan><tspan x="870">33</tspan><tspan x="928">34</tspan><tspan x="985">35</tspan><tspan x="1042">36</tspan><tspan x="1100">37</tspan><tspan x="1157">38</tspan><tspan x="1214">39</tspan><tspan x="1271">40</tspan><tspan x="1331">41</tspan></text>
</g>

<!-- blue annotations -->
<g stroke="#1565c0" stroke-width="4" fill="none" stroke-linejoin="round">
<line x1="294" y1="1626" x2="409" y2="1956"/>
<line x1="409" y1="1626" x2="294" y2="1956"/>
<rect x="495" y="1759" width="60" height="225"/>
<rect x="1128" y="1213" width="58" height="771"/>
<polyline points="756,1956 870,1843 1100,1956"/>
<line x1="1214" y1="1956" x2="1331" y2="1626"/>
</g>
</svg>
</body></html>
